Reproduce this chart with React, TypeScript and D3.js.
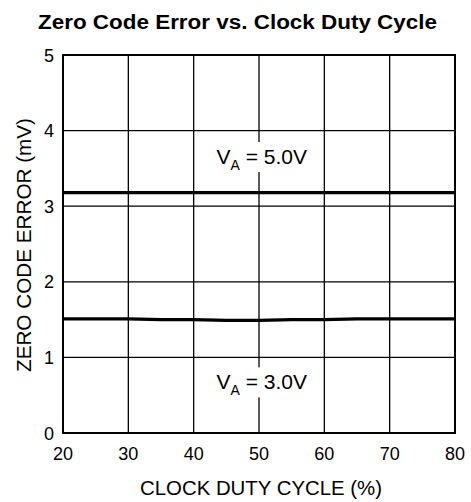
import React, { useEffect, useRef } from "react";
import * as d3 from "d3";

const dutyCycle = [20, 25, 30, 35, 40, 45, 50, 55, 60, 65, 70, 75, 80];
const errVa5 = [3.18, 3.18, 3.18, 3.18, 3.18, 3.18, 3.18, 3.18, 3.18, 3.18, 3.18, 3.18, 3.18];
const errVa3 = [1.51, 1.51, 1.51, 1.5, 1.5, 1.49, 1.49, 1.5, 1.5, 1.51, 1.51, 1.51, 1.51];
const seriesLabels = ["5.0V", "3.0V"];
const labelPos = [3.65, 0.67];
const xTicks = [20, 30, 40, 50, 60, 70, 80];
const yTicks = [0, 1, 2, 3, 4, 5];

const W = 471;
const H = 502;
const FONT = "'Liberation Sans', Arial, Helvetica, sans-serif";

export default function App() {
  const ref = useRef<SVGSVGElement>(null);

  useEffect(() => {
    const svg = d3.select(ref.current);
    svg.selectAll("*").remove();

    const margin = { top: 55, right: 16, bottom: 69, left: 63 };
    const x = d3.scaleLinear().domain([20, 80]).range([margin.left, W - margin.right]);
    const y = d3.scaleLinear().domain([0, 5]).range([H - margin.bottom, margin.top]);

    svg.append("rect").attr("width", W).attr("height", H).attr("fill", "#fff");

    // grid
    const g = svg.append("g");
    g.selectAll(".vg").data(xTicks.slice(1, -1)).join("line")
      .attr("x1", (d) => x(d)).attr("x2", (d) => x(d))
      .attr("y1", y(0)).attr("y2", y(5))
      .attr("stroke", "#000").attr("stroke-width", 1.3);
    g.selectAll(".hg").data(yTicks.slice(1, -1)).join("line")
      .attr("x1", x(20)).attr("x2", x(80))
      .attr("y1", (d) => y(d)).attr("y2", (d) => y(d))
      .attr("stroke", "#000").attr("stroke-width", 1.3);

    // frame
    svg.append("rect")
      .attr("x", x(20)).attr("y", y(5))
      .attr("width", x(80) - x(20)).attr("height", y(0) - y(5))
      .attr("fill", "none").attr("stroke", "#000").attr("stroke-width", 2);

    // data lines
    const line = d3.line<number>()
      .x((_, i) => x(dutyCycle[i]))
      .y((d) => y(d));
    [errVa5, errVa3].forEach((s) => {
      svg.append("path").attr("d", line(s)).attr("fill", "none")
        .attr("stroke", "#000").attr("stroke-width", 3.2);
    });

    // labels (white box hides the 50% grid line behind text)
    seriesLabels.forEach((lab, i) => {
      const cy = y(labelPos[i]);
      svg.append("rect").attr("x", x(49.3)).attr("y", cy - 15)
        .attr("width", x(50.7) - x(49.3)).attr("height", 30).attr("fill", "#fff");
      const t = svg.append("text").attr("x", x(43.5)).attr("y", cy + 7)
        .attr("font-family", FONT).attr("font-size", 21).attr("fill", "#000");
      t.append("tspan").text("V");
      t.append("tspan").attr("font-size", 14).attr("dy", 6).text("A");
      t.append("tspan").attr("dy", -6).text(" = " + lab);
    });

    // tick labels
    svg.selectAll(".xt").data(xTicks).join("text")
      .attr("x", (d) => x(d)).attr("y", y(0) + 27)
      .attr("text-anchor", "middle").attr("font-family", FONT).attr("font-size", 18)
      .text((d) => d);
    svg.selectAll(".yt").data(yTicks).join("text")
      .attr("x", x(20) - 9).attr("y", (d) => y(d) + 6.5)
      .attr("text-anchor", "end").attr("font-family", FONT).attr("font-size", 18)
      .text((d) => d);

    // titles
    svg.append("text").attr("x", 237.5).attr("y", 28.5).attr("text-anchor", "middle")
      .attr("font-family", FONT).attr("font-size", 20).attr("font-weight", "bold")
      .attr("textLength", 399).attr("lengthAdjust", "spacingAndGlyphs")
      .text("Zero Code Error vs. Clock Duty Cycle");
    svg.append("text").attr("x", 261).attr("y", 495).attr("text-anchor", "middle")
      .attr("font-family", FONT).attr("font-size", 20)
      .attr("textLength", 242).attr("lengthAdjust", "spacingAndGlyphs")
      .text("CLOCK DUTY CYCLE (%)");
    svg.append("text")
      .attr("transform", `translate(31, ${(y(0) + y(5)) / 2 + 1}) rotate(-90)`)
      .attr("text-anchor", "middle").attr("font-family", FONT).attr("font-size", 20)
      .attr("textLength", 254).attr("lengthAdjust", "spacingAndGlyphs")
      .text("ZERO CODE ERROR (mV)");
  }, []);

  return (
    <svg ref={ref} width={W} height={H} style={{ position: "absolute", left: 0, top: 0 }} />
  );
}
